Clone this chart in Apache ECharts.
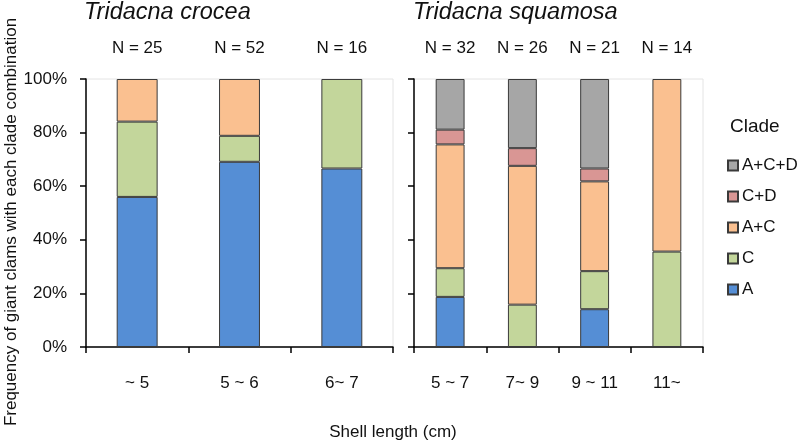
<!DOCTYPE html>
<html><head><meta charset="utf-8">
<script src="https://cdn.jsdelivr.net/npm/echarts@6/dist/echarts.min.js"></script>
<style>html,body{margin:0;padding:0;background:#fff}#c{width:800px;height:444px}</style>
</head><body><div id="c"></div>
<script>
// ---- data ----
const crCats = ['~ 5', '5 ~ 6', '6~ 7'];
const crN = ['N = 25', 'N = 52', 'N = 16'];
const crA = [56.0, 69.1, 66.6];
const crC = [28.1, 9.7, 33.4];
const crAC = [15.9, 21.2, 0];

const sqCats = ['5 ~ 7', '7~ 9', '9 ~ 11', '11~'];
const sqN = ['N = 32', 'N = 26', 'N = 21', 'N = 14'];
const sqA = [18.7, 0, 14.1, 0];
const sqC = [10.7, 15.8, 14.2, 35.6];
const sqAC = [46.2, 51.8, 33.5, 64.4];
const sqCD = [5.5, 6.6, 4.8, 0];
const sqACD = [18.9, 25.8, 33.4, 0];

const legendOrder = ['A+C+D', 'C+D', 'A+C', 'C', 'A'];
const titles = ['Tridacna crocea', 'Tridacna squamosa'];
const yTitle = 'Frequency of giant clams with each clade combination';
const xTitle = 'Shell length (cm)';
const legendTitle = 'Clade';

// ---- styles ----
const FONT = '"Liberation Sans", Arial, sans-serif';
const colors = {'A': '#558ED5', 'C': '#C3D69B', 'A+C': '#FAC090', 'C+D': '#D99694', 'A+C+D': '#A6A6A6'};
const TXT = '#111';

function mk(name, data, idx, stack) {
  return {
    type: 'bar', name: name, stack: stack, xAxisIndex: idx, yAxisIndex: idx,
    barWidth: '40%',
    data: data.map(v => v === 0 ? '-' : v),
    itemStyle: {color: colors[name], borderColor: '#3a3a3a', borderWidth: 1},
    emphasis: {disabled: true}
  };
}

const catAxis = (idx, cats) => ({
  type: 'category', gridIndex: idx, data: cats, position: 'bottom',
  axisLine: {lineStyle: {color: '#000', width: 1.5}},
  axisTick: {show: true, length: 6, lineStyle: {color: '#000', width: 1.5}},
  axisLabel: {color: TXT, fontSize: 17, fontFamily: FONT, margin: 28}
});
const nAxis = (idx, ns) => ({
  type: 'category', gridIndex: idx, data: ns, position: 'top',
  axisLine: {show: false}, axisTick: {show: false},
  axisLabel: {color: TXT, fontSize: 17, fontFamily: FONT, margin: 22}
});
const valAxis = (idx, showLabel) => ({
  type: 'value', gridIndex: idx, min: 0, max: 100, interval: 20,
  splitLine: {show: false},
  axisLine: {show: true, lineStyle: {color: '#000', width: 1.5}},
  axisTick: {show: true, length: 6, lineStyle: {color: '#000', width: 1.5}},
  axisLabel: {show: showLabel, formatter: '{value}%', color: TXT, fontSize: 17, fontFamily: FONT, margin: 19}
});

const chart = echarts.init(document.getElementById('c'), null, {renderer: 'canvas'});
chart.setOption({
  animation: false,
  backgroundColor: '#fff',
  textStyle: {fontFamily: FONT},
  title: [
    {text: titles[0], left: 84, top: 1, padding: 0,
     textStyle: {fontStyle: 'italic', fontWeight: 'normal', fontSize: 23.5, color: TXT, fontFamily: FONT}},
    {text: titles[1], left: 413, top: 1, padding: 0,
     textStyle: {fontStyle: 'italic', fontWeight: 'normal', fontSize: 23.5, color: TXT, fontFamily: FONT}},
    {text: legendTitle, left: 730, top: 117, padding: 0,
     textStyle: {fontWeight: 'normal', fontSize: 19, color: TXT, fontFamily: FONT}}
  ],
  grid: [
    {left: 86, top: 79, width: 307, height: 268, show: true, borderColor: '#e4e4e4', borderWidth: 1, backgroundColor: 'transparent', outerBoundsMode: 'none'},
    {left: 414, top: 79, width: 289, height: 268, show: true, borderColor: '#e4e4e4', borderWidth: 1, backgroundColor: 'transparent', outerBoundsMode: 'none'}
  ],
  xAxis: [catAxis(0, crCats), catAxis(1, sqCats), nAxis(0, crN), nAxis(1, sqN)],
  yAxis: [valAxis(0, true), valAxis(1, false)],
  legend: {
    data: legendOrder, orient: 'vertical', left: 727, top: 157,
    itemWidth: 10, itemHeight: 10, itemGap: 14, padding: 0,
    icon: 'rect',
    textStyle: {color: TXT, fontSize: 17, fontFamily: FONT, lineHeight: 17, padding: [0, 0, 0, -1]},
    selectedMode: false
  },
  graphic: [
    {type: 'text', x: 11, y: 222, rotation: Math.PI / 2,
     style: {text: yTitle, align: 'center', verticalAlign: 'middle', fontSize: 17, fontFamily: FONT, fill: TXT}},
    {type: 'text', x: 393, y: 432,
     style: {text: xTitle, align: 'center', verticalAlign: 'middle', fontSize: 17, fontFamily: FONT, fill: TXT}}
  ],
  series: [
    mk('A', crA, 0, 'cr'), mk('C', crC, 0, 'cr'), mk('A+C', crAC, 0, 'cr'),
    mk('A', sqA, 1, 'sq'), mk('C', sqC, 1, 'sq'), mk('A+C', sqAC, 1, 'sq'),
    mk('C+D', sqCD, 1, 'sq'), mk('A+C+D', sqACD, 1, 'sq')
  ]
});
</script></body></html>
